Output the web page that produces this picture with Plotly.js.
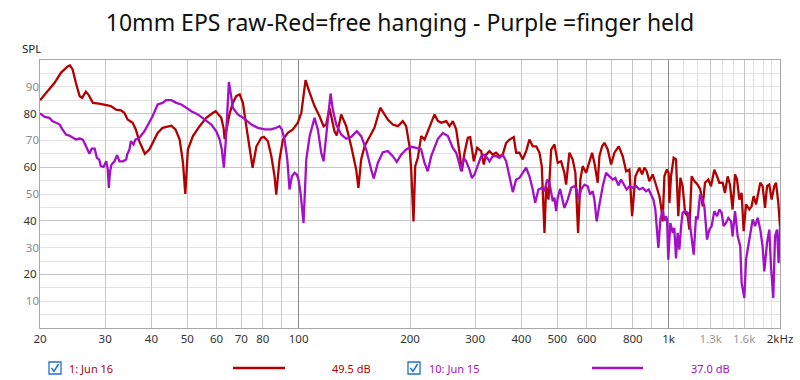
<!DOCTYPE html>
<html>
<head>
<meta charset="utf-8">
<script src="https://cdn.plot.ly/plotly-3.0.1.min.js"></script>
<style>html,body{margin:0;padding:0;background:#fff;}#chart{width:800px;height:380px;}</style>
</head>
<body>
<div id="chart"></div>
<script>
// ---- Data (frequency in Hz, SPL in dB) ----
const redFreq = [20,21.0,21.9,22.8,23.8,24.1,24.5,25.0,25.6,26.0,26.6,27.0,27.8,28.9,30.2,31.1,32.1,33.1,33.8,34.5,35.6,36.3,37.1,37.9,38.4,39.5,40.3,41.6,42.9,44.3,45.3,46.5,47.7,48.7,49.4,50.2,51.8,54.0,56.3,58.7,59.7,61.8,62.7,63.1,63.9,65.1,66.4,67.8,69.3,70.7,72.2,73.7,75.1,76.9,79.3,80.6,82.6,84.4,86.1,87.0,88.8,90.7,93.5,96.5,99.5,101.7,103.3,104.4,107.1,110.4,113.9,116.8,118.7,121.2,125.0,126.8,130.3,134.5,138.7,143.1,145.1,147.6,150.7,155.4,160.3,166.2,170.7,174.2,179.7,185.4,191.2,195.3,199.4,201.5,204.4,206.6,210.0,214.4,218.9,225.8,233.0,237.8,243.0,250.6,255.8,261.1,266.6,272.2,276.1,280.8,286.6,290.9,295.6,297.5,303.8,311.4,316.5,321.2,327.9,334.7,341.8,349.0,356.2,363.8,371.4,381.5,387.2,395.2,403.4,412.0,420.6,429.3,438.5,447.7,454.1,461.8,466.7,473.4,481.4,491.4,501.5,512.2,522.7,528.3,539.3,550.4,559.8,569.3,577.5,585.8,598.3,610.9,621.2,630.1,643.2,650.1,661.1,670.6,684.5,699.2,713.7,733.0,751.5,767.6,783.5,796.7,813.3,833.8,847.9,860.1,872.5,887.2,905.6,920.8,934.2,944.2,954.1,963.8,974.0,988.0,1000,1005,1015,1032,1047,1062,1076,1091,1108,1126,1138,1154,1174,1198,1218,1236,1254,1280,1302,1329,1352,1371,1400,1420,1444,1465,1489,1512,1531,1553,1575,1595,1619,1652,1676,1697,1723,1769,1795,1822,1845,1871,1898,1930,1951,1979,2000];
const redSPL = [85.0,88.4,91.5,95.3,97.7,98.0,96.5,91.5,86.5,85.9,88.2,87.2,84.0,83.7,83.0,82.8,81.5,81.2,80.3,77.8,76.6,74.1,69.7,66.6,65.0,66.6,69.1,72.8,74.7,75.3,75.5,74.0,70.3,61.6,50.0,66.6,71.6,75.3,78.4,80.3,80.9,78.4,74.5,70.5,74.0,80.0,84.0,86.5,87.2,84.0,75.3,66.6,59.8,67.8,71.0,71.3,69.7,64.1,56.6,49.8,62.9,70.3,72.8,74.1,76.6,80.3,87.8,92.5,87.8,82.8,79.0,75.3,75.9,82.0,73.4,71.8,79.7,75.3,67.8,59.1,52.3,62.9,67.8,71.0,74.7,82.2,79.7,77.8,75.9,75.3,77.2,75.3,67.8,59.1,39.8,60.4,63.5,71.6,70.3,75.3,79.7,77.3,76.6,77.2,75.3,77.2,74.1,65.4,58.5,65.4,71.0,71.2,64.1,62.2,67.2,66.0,61.0,64.7,66.0,64.7,65.4,64.1,64.7,69.1,70.3,71.2,65.4,65.4,62.9,66.0,70.3,67.8,67.8,65.4,60.4,35.5,52.9,47.9,66.6,68.5,61.6,62.2,57.9,53.5,65.4,62.9,57.9,35.5,55.4,60.4,57.9,61.6,65.4,61.6,54.2,64.1,67.8,69.1,66.6,61.0,65.4,67.8,64.1,58.5,59.1,41.7,56.6,59.8,57.3,59.8,58.5,54.8,57.3,54.2,51.7,49.2,45.4,39.8,56.6,59.1,57.9,46.7,56.6,63.5,62.9,41.7,56.0,52.9,43.0,41.7,36.7,56.6,54.8,53.5,51.7,45.4,54.2,55.4,52.9,59.1,56.6,54.2,54.2,50.4,56.6,53.5,44.2,57.3,55.4,47.9,50.4,36.1,46.1,44.2,45.4,49.2,46.1,54.2,52.9,44.8,52.9,53.5,47.9,52.9,54.2,46.7,38.0];

const purpleFreq = [20,20.6,21.2,21.6,22.1,22.6,23.0,23.5,24.0,24.5,25.0,25.6,26.1,26.5,26.8,27.2,27.6,28.1,28.5,28.9,29.2,29.7,30.2,30.5,30.7,30.9,31.2,31.8,32.3,32.8,33.5,34.2,34.4,34.9,35.2,35.8,36.2,37.1,38.3,39.5,40.3,41.6,42.9,43.8,45.3,46.7,48.2,49.7,51.3,53.4,55.7,58.1,59.9,61.2,62.0,62.8,63.5,64.2,64.8,65.5,66.4,68.5,71.4,74.5,77.6,80.9,84.4,87.0,88.8,90.1,91.6,93.2,94.5,95.9,97.5,98.9,99.9,101.2,102.0,103.1,104.9,107.1,110.4,112.7,115.1,116.8,118.7,120.7,122.0,123.7,126.4,130.3,134.5,138.7,143.6,147.6,152.3,157.1,159.6,163.7,168.9,174.2,179.7,184.2,189.3,195.3,201.5,207.9,214.4,218.9,223.4,228.2,233.0,237.8,245.3,253.1,261.1,266.6,270.4,275.0,279.5,283.7,289.6,293.8,298.8,305.0,311.4,316.5,323.3,327.9,334.7,341.8,349.0,356.2,363.8,371.4,379.1,387.2,395.2,403.4,412.0,420.6,429.3,435.8,444.8,454.1,461.8,469.6,476.4,486.3,491.4,496.6,501.5,509.0,515.4,522.7,533.8,545.3,556.6,564.5,571.6,580.1,592.2,604.4,613.4,623.4,630.1,639.2,650.1,663.6,677.6,691.6,706.0,717.9,731.5,743.9,759.4,770.2,783.5,799.6,816.7,833.8,851.1,869.3,883.4,896.7,909.7,920.8,928.5,938.2,950.0,963.8,974.0,984.2,990.3,997.8,1011,1026,1036,1047,1058,1069,1081,1091,1108,1126,1138,1150,1169,1186,1198,1216,1228,1249,1270,1288,1307,1329,1352,1371,1391,1408,1429,1450,1475,1489,1512,1537,1562,1575,1602,1619,1643,1663,1687,1713,1741,1769,1795,1814,1845,1871,1891,1918,1939,1963,1983,2000];
const purpleSPL = [80.1,78.8,78.4,77.2,76.6,75.9,74.1,72.2,71.8,71.0,70.3,70.7,70.3,68.5,67.2,65.0,66.9,66.9,63.5,62.9,60.4,60.1,62.2,59.1,52.3,58.0,61.0,62.2,64.5,62.2,62.2,62.9,64.7,66.6,69.7,68.5,70.3,71.0,73.4,76.6,79.0,83.4,84.0,85.0,85.0,84.0,83.4,82.2,80.9,79.7,77.8,75.9,73.4,70.3,66.6,59.8,69.1,82.8,91.8,87.8,82.2,79.7,78.1,75.9,74.7,74.1,74.1,74.7,75.3,74.1,70.3,62.9,51.7,56.6,57.9,57.3,55.4,50.4,44.2,39.2,62.9,71.6,78.4,74.1,65.4,62.2,71.6,80.3,87.5,81.5,75.9,72.2,70.6,71.3,73.4,71.6,66.6,59.1,55.8,61.6,65.6,66.0,64.1,62.0,64.7,66.6,67.6,67.2,66.6,61.6,58.5,64.1,67.5,70.5,72.8,71.6,67.2,65.4,62.5,58.5,63.5,62.2,59.1,56.0,57.3,60.4,64.1,64.7,63.5,62.2,64.1,64.1,63.5,64.7,62.2,56.6,50.7,55.4,56.0,57.9,59.8,56.6,51.7,46.7,51.7,52.3,51.0,55.4,54.0,47.3,48.6,43.6,48.6,51.9,47.9,44.8,47.9,52.3,52.9,51.7,47.9,51.7,53.5,52.9,49.8,51.0,47.9,39.8,46.1,52.9,57.9,56.6,55.4,56.0,53.2,55.4,53.5,51.7,52.9,52.3,52.9,51.7,52.3,51.0,51.7,49.8,47.9,44.2,38.0,29.9,40.5,44.2,40.0,41.7,40.5,25.5,39.2,35.5,37.4,26.0,35.5,29.2,38.0,43.0,43.6,43.0,40.5,34.9,27.4,41.7,40.5,49.8,48.6,45.4,33.0,36.7,38.0,43.6,41.7,44.2,43.0,38.0,39.2,41.1,39.8,34.2,43.6,34.2,30.5,16.8,11.2,25.5,31.1,34.2,40.5,38.0,41.1,36.7,30.5,21.1,31.8,36.7,23.0,11.2,34.2,36.7,24.3,38.0];

// ---- Axis tick definitions ----
const xTickVals = [20,30,40,50,60,70,80,90,100,200,300,400,500,600,700,800,900,1000,1300,1600,2000];
const xTickText = ['20','30','40','50','60','70','80','','100','200','300','400','500','600','','800','','1k','<span style="color:#9a9a9a">1.3k</span>','<span style="color:#9a9a9a">1.6k</span>','2kHz'];
const xMinorVals = [1100,1200,1400,1500,1700,1800,1900];
const xDecadeVals = [100,1000];
const yMajorVals = [20,40,60,80];
const yMinorLabelVals = [10,30,50,70,90];
const yMinorGridVals = [5,10,15,25,30,35,45,50,55,65,70,75,85,90,95];

// ---- Legend entries ----
const legendNames = ['1: Jun 16','10: Jun 15'];
const legendValues = ['49.5 dB','37.0 dB'];
const seriesColors = ['#b30000','#a40fc8'];

const W = 800, H = 380, ML = 40, MR = 20, MT = 60, MB = 52;
const PW = W - ML - MR, PH = H - MT - MB;
const px = v => (v - ML) / PW;
const py = v => (H - MB - v) / PH;

const traces = [
  {x: redFreq, y: redSPL, type: 'scatter', mode: 'lines', line: {color: seriesColors[0], width: 2.3}, hoverinfo: 'skip', showlegend: false},
  {x: purpleFreq, y: purpleSPL, type: 'scatter', mode: 'lines', line: {color: seriesColors[1], width: 2.3}, hoverinfo: 'skip', showlegend: false},
  {x: [], y: [], xaxis: 'x2', yaxis: 'y2', type: 'scatter', mode: 'lines', showlegend: false, hoverinfo: 'skip'}
];

const fontFam = '"Noto Sans", "Open Sans", sans-serif';
const shapes = [];
const annotations = [];

// SPL label
annotations.push({xref: 'paper', yref: 'paper', x: px(20), y: py(48), text: 'SPL', showarrow: false,
  xanchor: 'left', yanchor: 'middle', font: {family: fontFam, size: 11.5, color: '#222'}});

// legend row
const legendLayout = [
  {box: 49, name: 67, line0: 233, line1: 285, val: 330},
  {box: 408, name: 427, line0: 592, line1: 643, val: 689}
];
const ly = 368;
legendLayout.forEach((L, i) => {
  const b0 = L.box, b1 = L.box + 12, t0 = ly - 6, t1 = ly + 6;
  shapes.push({type: 'rect', xref: 'paper', yref: 'paper', x0: px(b0), x1: px(b1), y0: py(t1), y1: py(t0),
    line: {color: '#1e6fd9', width: 1.3}, fillcolor: '#ffffff'});
  shapes.push({type: 'path', xref: 'paper', yref: 'paper',
    path: 'M ' + px(b0 + 2.5) + ' ' + py(ly) + ' L ' + px(b0 + 5) + ' ' + py(ly + 3.5) + ' L ' + px(b0 + 9.5) + ' ' + py(ly - 4),
    line: {color: '#1e6fd9', width: 1.5}});
  annotations.push({xref: 'paper', yref: 'paper', x: px(L.name), y: py(ly), text: legendNames[i], showarrow: false,
    xanchor: 'left', yanchor: 'middle', font: {family: fontFam, size: 11, color: seriesColors[i]}});
  shapes.push({type: 'line', xref: 'paper', yref: 'paper', x0: px(L.line0), x1: px(L.line1), y0: py(ly), y1: py(ly),
    line: {color: seriesColors[i], width: 2.5}});
  annotations.push({xref: 'paper', yref: 'paper', x: px(L.val), y: py(ly), text: legendValues[i], showarrow: false,
    xanchor: 'left', yanchor: 'middle', font: {family: fontFam, size: 11, color: seriesColors[i]}});
});

const xr = [Math.log10(20), Math.log10(2000)];
const layout = {
  width: W, height: H,
  margin: {l: ML, r: MR, t: MT, b: MB, pad: 0},
  paper_bgcolor: '#ffffff', plot_bgcolor: '#ffffff',
  title: {text: '10mm EPS raw-Red=free hanging - Purple =finger held', x: 0.5, xanchor: 'center', y: 0.94, yanchor: 'middle',
    font: {family: fontFam, size: 23, color: '#111'}},
  font: {family: fontFam, size: 11.5, color: '#333'},
  showlegend: false,
  xaxis: {type: 'log', range: xr, tickmode: 'array', tickvals: xTickVals, ticktext: xTickText,
    showgrid: true, gridcolor: '#c6c6c6', gridwidth: 1, zeroline: false, ticks: '',
    showline: true, linecolor: '#a8a8a8', linewidth: 1, mirror: true,
    tickfont: {family: fontFam, size: 11.5, color: '#333'},
    minor: {tickmode: 'array', tickvals: xMinorVals, showgrid: true, gridcolor: '#e2e2e2', ticks: ''}},
  yaxis: {range: [0, 100], tickmode: 'array', tickvals: yMajorVals, ticktext: yMajorVals.map(String),
    showgrid: true, gridcolor: '#c6c6c6', gridwidth: 1, zeroline: false, ticks: '',
    showline: true, linecolor: '#a8a8a8', linewidth: 1, mirror: true,
    tickfont: {family: fontFam, size: 11.5, color: '#333'},
    minor: {tickmode: 'array', tickvals: yMinorGridVals, showgrid: true, gridcolor: '#e2e2e2', ticks: ''}},
  xaxis2: {type: 'log', range: xr, overlaying: 'x', anchor: 'y', tickmode: 'array', tickvals: xDecadeVals,
    showticklabels: false, ticks: '', showgrid: true, gridcolor: '#8a8a8a', zeroline: false, showline: false},
  yaxis2: {range: [0, 100], overlaying: 'y', anchor: 'x', side: 'left', tickmode: 'array', tickvals: yMinorLabelVals,
    ticktext: yMinorLabelVals.map(String), showgrid: false, zeroline: false, ticks: '', showline: false,
    tickfont: {family: fontFam, size: 11.5, color: '#8c8c8c'}},
  shapes: shapes,
  annotations: annotations
};

Plotly.newPlot('chart', traces, layout, {staticPlot: true, displayModeBar: false});
</script>
</body>
</html>
